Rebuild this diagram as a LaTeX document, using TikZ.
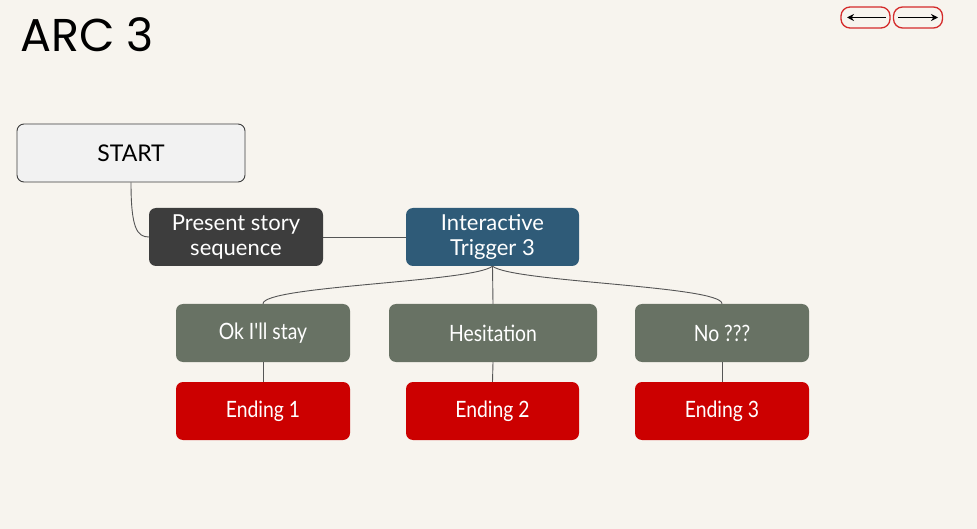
\documentclass[tikz,border=0pt]{standalone}
\usepackage{fontspec}
\setmainfont{Lato}
\newfontfamily\titlefont{Poppins}
\newfontfamily\condfont{Lato}[FakeStretch=0.86]
\usetikzlibrary{arrows.meta}
\definecolor{bgc}{HTML}{F7F4EE}
\definecolor{startfill}{HTML}{F2F2F2}
\definecolor{darkfill}{HTML}{3D3D3D}
\definecolor{bluefill}{HTML}{2F5B78}
\definecolor{grayfill}{HTML}{687264}
\definecolor{redfill}{HTML}{CC0000}
\definecolor{btnred}{HTML}{D42A2A}
\definecolor{linec}{HTML}{555555}
\tikzset{
  box/.style={rounded corners=7pt, inner sep=0pt, align=center, font=\fontsize{22}{25.5}\selectfont, text=white},
  lowbox/.style={box, font=\condfont\fontsize{22.5}{26}\selectfont},
  conn/.style={draw=linec, line width=0.9pt},
  btn/.style={draw=btnred, line width=1.3pt, rounded corners=9pt, minimum width=49pt, minimum height=21pt, inner sep=0pt},
}
\begin{document}
\begin{tikzpicture}[x=1pt,y=-1pt]
\fill[bgc] (0,0) rectangle (977,529);
\useasboundingbox (0,0) rectangle (977,529);
\node[anchor=base west, inner sep=0pt, font=\titlefont\fontsize{46}{50}\selectfont] (title) at (20,52) {ARC 3};
% buttons
\node[btn] (bl) at (865.5,17.5) {};
\node[btn] (br) at (918,17.5) {};
\coordinate (bla) at (847,17.5);
\coordinate (blb) at (886,17.5);
\coordinate (bra) at (898,17.5);
\coordinate (brb) at (938,17.5);
\draw[line width=1.1pt, -{Stealth[length=7pt,width=7pt]}] (blb) -- (bla);
\draw[line width=1.1pt, -{Stealth[length=7pt,width=7pt]}] (bra) -- (brb);
% nodes
\node[box, draw=darkfill, line width=0.9pt, fill=startfill, text=black, minimum width=228pt, minimum height=58pt, font=\fontsize{23}{26}\selectfont] (start) at (131,153) {START};
\node[box, fill=darkfill, minimum width=174pt, minimum height=58pt] (present) at (236,237) {Present story\\sequence};
\node[box, fill=bluefill, minimum width=173pt, minimum height=58pt] (trig) at (492.5,237) {Interactive\\Trigger 3};
\node[lowbox, fill=grayfill, minimum width=174pt, minimum height=58pt] (ok) at (263,333) {Ok I'll stay};
\node[lowbox, fill=grayfill, minimum width=208pt, minimum height=58pt] (hes) at (493,333) {Hesitation};
\node[lowbox, fill=grayfill, minimum width=174pt, minimum height=58pt] (no) at (722,333) {No ???};
\node[lowbox, fill=redfill, minimum width=174pt, minimum height=58pt] (e1) at (263,411) {Ending 1};
\node[lowbox, fill=redfill, minimum width=173pt, minimum height=58pt] (e2) at (492.5,411) {Ending 2};
\node[lowbox, fill=redfill, minimum width=174pt, minimum height=58pt] (e3) at (722,411) {Ending 3};
% connectors
\draw[conn] (start.south) .. controls ++(0,45) and ++(-12,0) .. (present.west);
\draw[conn] (present.east) -- (trig.west);
\draw[conn] (trig.south) -- (hes.north);
\draw[conn] (trig.south) .. controls ++(-20,16) and ++(0,-18) .. (ok.north);
\draw[conn] (trig.south) .. controls ++(20,16) and ++(0,-18) .. (no.north);
\draw[conn] (ok.south) -- (e1.north);
\draw[conn] (hes.south) -- (e2.north);
\draw[conn] (no.south) -- (e3.north);
\end{tikzpicture}
\end{document}
